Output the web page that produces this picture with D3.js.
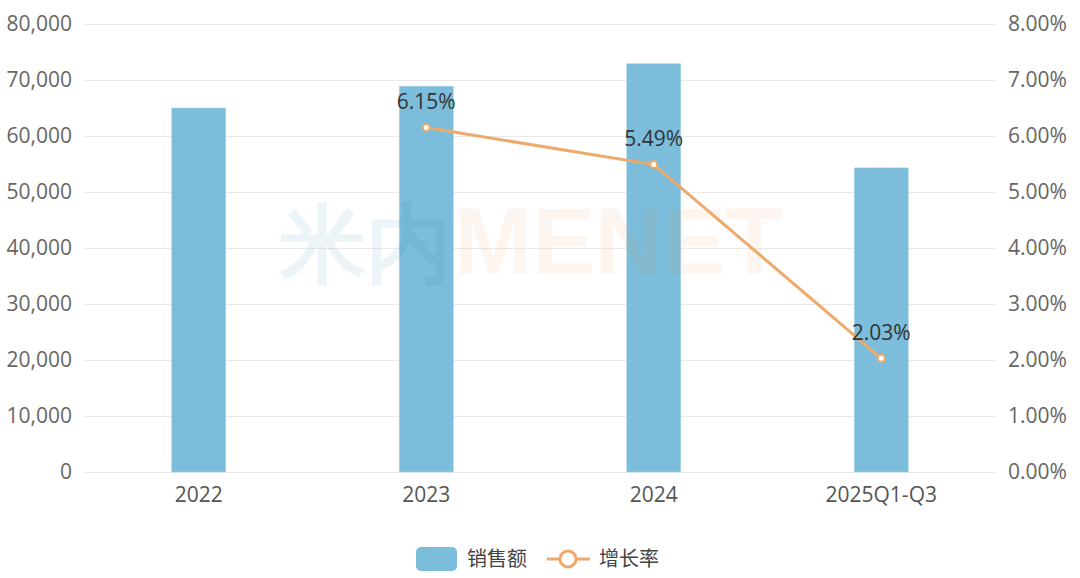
<!DOCTYPE html>
<html><head><meta charset="utf-8">
<script src="https://cdn.jsdelivr.net/npm/d3@7"></script>
<style>
html,body{margin:0;padding:0;background:#fff;}
svg text{font-family:"Open Sans","Noto Sans CJK SC",sans-serif;}
</style></head>
<body>
<svg id="c" width="1080" height="578"></svg>
<script>
const categories = ["2022","2023","2024","2025Q1-Q3"];
const sales = [65000, 68900, 72900, 54300];
const growth = [null, 6.15, 5.49, 2.03];
const leftTicks = [0,10000,20000,30000,40000,50000,60000,70000,80000];
const rightTicks = [0,1,2,3,4,5,6,7,8];
const seriesNames = ["销售额","增长率"];

const svg = d3.select("#c");
const W=1080,H=578;
const m={left:85,right:85,top:24,bottom:106};
const x=d3.scaleBand().domain(categories).range([m.left,W-m.right]);
const yL=d3.scaleLinear().domain([0,80000]).range([H-m.bottom,m.top]);
const yR=d3.scaleLinear().domain([0,8]).range([H-m.bottom,m.top]);
const barColor="#7bbdda", lineColor="#eeaa6c";

// grid
svg.append("g").selectAll("line").data(leftTicks).join("line")
  .attr("x1",m.left).attr("x2",W-m.right)
  .attr("y1",d=>Math.round(yL(d))+0.5).attr("y2",d=>Math.round(yL(d))+0.5)
  .attr("stroke","#e9e9e9").attr("stroke-width",1.2);

// left axis labels
const fmt=d3.format(",");
svg.append("g").selectAll("text").data(leftTicks).join("text")
  .attr("x",72).attr("y",d=>yL(d)).attr("dy","0.35em")
  .attr("text-anchor","end").attr("fill","#666").attr("font-size",21)
  .text(d=>fmt(d));
// right axis labels
svg.append("g").selectAll("text").data(rightTicks).join("text")
  .attr("x",1008).attr("y",d=>yR(d)).attr("dy","0.35em")
  .attr("text-anchor","start").attr("fill","#666").attr("font-size",21)
  .text(d=>d.toFixed(2)+"%");
// category labels
svg.append("g").selectAll("text").data(categories).join("text")
  .attr("x",d=>x(d)+x.bandwidth()/2).attr("y",H-m.bottom+23).attr("dy","0.35em")
  .attr("text-anchor","middle").attr("fill","#555").attr("font-size",21)
  .text(d=>d);

// bars
const bw=54;
svg.append("g").selectAll("rect").data(sales).join("rect")
  .attr("x",(d,i)=>x(categories[i])+x.bandwidth()/2-bw/2)
  .attr("width",bw)
  .attr("y",d=>yL(d)).attr("height",d=>yL(0)-yL(d))
  .attr("fill",barColor).attr("stroke","#a9d4e8").attr("stroke-width",0.6);

// watermark
const wm=svg.append("text").attr("x",280).attr("y",274).attr("opacity",0.08)
  .attr("font-weight","bold").style("font-family","Liberation Sans, Arial, sans-serif");
wm.append("tspan").attr("font-size",86).attr("fill","#2a7fa8").text("米内");
wm.append("tspan").attr("font-size",94).attr("fill","#f08a3c").attr("dx",2).text("MENET");

// line
const pts=growth.map((v,i)=>({v,c:categories[i]})).filter(d=>d.v!=null);
const line=d3.line().x(d=>x(d.c)+x.bandwidth()/2).y(d=>yR(d.v));
svg.append("path").datum(pts).attr("d",line).attr("fill","none")
  .attr("stroke",lineColor).attr("stroke-width",3);
svg.append("g").selectAll("circle").data(pts).join("circle")
  .attr("cx",d=>x(d.c)+x.bandwidth()/2).attr("cy",d=>yR(d.v)).attr("r",3.5)
  .attr("fill","#fff").attr("stroke",lineColor).attr("stroke-width",2);
svg.append("g").selectAll("text").data(pts).join("text")
  .attr("x",d=>x(d.c)+x.bandwidth()/2).attr("y",d=>yR(d.v)-26).attr("dy","0.35em")
  .attr("text-anchor","middle").attr("fill","#333").attr("font-size",21)
  .text(d=>d.v.toFixed(2)+"%");

// legend
const lg=svg.append("g");
lg.append("rect").attr("x",416).attr("y",547).attr("width",41).attr("height",24).attr("rx",5).attr("fill",barColor);
lg.append("text").attr("x",467).attr("y",559).attr("dy","0.35em").attr("font-size",20).attr("fill","#444").text(seriesNames[0]);
lg.append("line").attr("x1",547).attr("x2",590).attr("y1",559).attr("y2",559).attr("stroke",lineColor).attr("stroke-width",3);
lg.append("circle").attr("cx",568).attr("cy",559).attr("r",8).attr("fill","#fff").attr("stroke",lineColor).attr("stroke-width",3);
lg.append("text").attr("x",599).attr("y",559).attr("dy","0.35em").attr("font-size",20).attr("fill","#444").text(seriesNames[1]);
</script>
</body></html>
